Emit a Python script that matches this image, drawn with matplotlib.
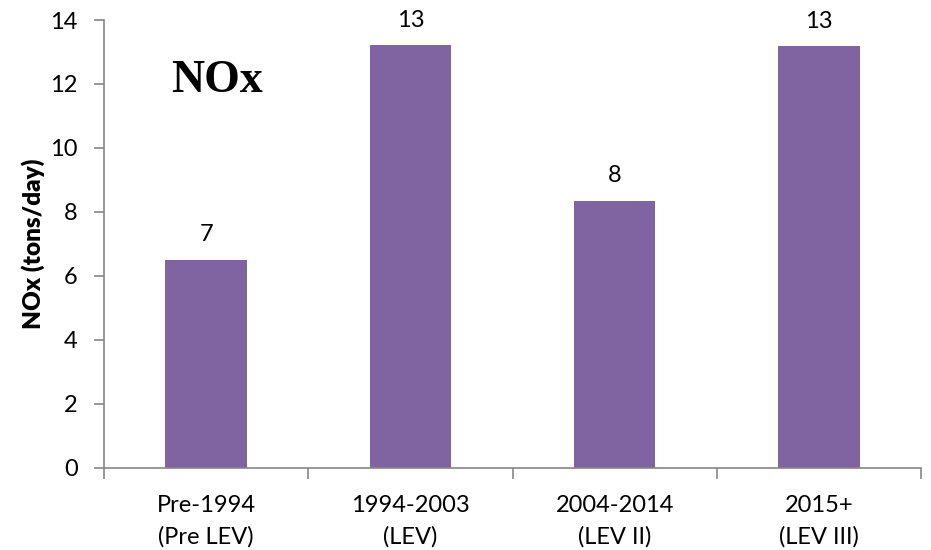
import numpy as np
import matplotlib.pyplot as plt

categories = ['Pre-1994\n(Pre LEV)', '1994-2003\n(LEV)', '2004-2014\n(LEV II)', '2015+\n(LEV III)']
values = [6.5, 13.22, 8.35, 13.19]
labels = ['7', '13', '8', '13']

plt.rcParams['font.family'] = ['Lato', 'DejaVu Sans']

fig = plt.figure(figsize=(9.31, 5.5), dpi=100)
ax = fig.add_axes([0.1117, 0.15, 0.8776, 0.8136])

x = np.arange(len(categories))
bars = ax.bar(x, values, width=0.4, color='#8064A2')
for xi, v, lab in zip(x, values, labels):
    ax.text(xi, v + 0.45, lab, ha='center', va='bottom', fontsize=17)

ax.set_xlim(-0.5, len(categories) - 0.5)
ax.set_ylim(0, 14)
ax.set_yticks(range(0, 15, 2))
ax.set_xticks(np.arange(-0.5, len(categories), 1.0))
ax.set_xticklabels([])
ax.set_xticks(x, minor=True)
ax.set_xticklabels(categories, minor=True, fontsize=17, linespacing=1.55)
ax.tick_params(axis='x', which='minor', length=0, pad=20)
ax.tick_params(axis='x', which='major', length=8, color='#868686', width=1.2)
ax.tick_params(axis='y', length=7, color='#868686', width=1.2, labelsize=17, pad=12)

for s in ['top', 'right']:
    ax.spines[s].set_visible(False)
for s in ['left', 'bottom']:
    ax.spines[s].set_color('#868686')
    ax.spines[s].set_linewidth(1.2)

ax.set_ylabel('NOx (tons/day)', fontsize=17.5, fontweight='heavy', labelpad=4)
ax.text(0.138, 0.91, 'NOx', transform=ax.transAxes, family='Liberation Serif',
        fontsize=33, fontweight='bold', ha='center', va='top')

fig.savefig('out.png', dpi=100)
